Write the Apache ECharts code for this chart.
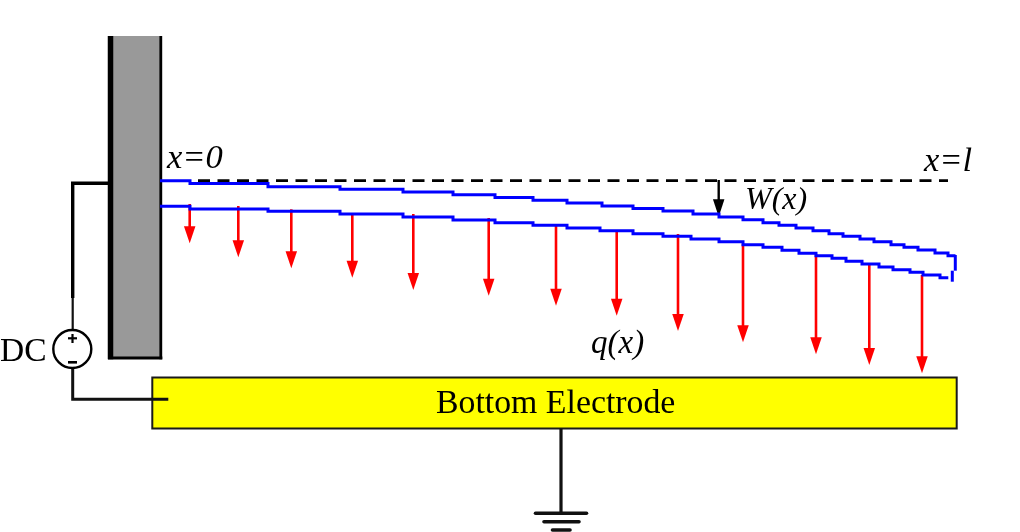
<!DOCTYPE html>
<html><head><meta charset="utf-8">
<style>html,body{margin:0;padding:0;background:#fff}#c{width:1020px;height:532px}</style>
<script src="https://cdn.jsdelivr.net/npm/echarts@6/dist/echarts.min.js"></script>
</head><body><div id="c"></div>
<script>
// Top surface of the beam (each step: x where it starts, y level)
const topX=[160,190,268,340,403,453,495,533,567,602,633,663,693,719,743,763,779,796,813,829,843,860,874,891,904,918,935,948,955.5];
const topY=[180.7,183.5,186.7,189.3,192,194.7,197.5,200.3,203,206,208.5,211,214,217,219.7,222.7,225.3,228,230.7,233.7,236.3,239,241.7,244.7,247.3,250,253,255.7,255.7];
// Bottom surface of the beam
const botX=[160,190,268,340,403,453,495,533,567,600,633,663,691,719,743,763,782,799,816,832,846,862,879,893,910,923,940,948.3];
const botY=[206.3,209,211.3,214,217,220,222.7,225.3,228,230.7,233.7,236.3,239,241.7,244.7,247.3,250.3,253.3,255.7,258.3,261.3,264,267,269.7,272.3,275,277.7,277.7];
// Beam free end
const endUpper=[[955.3,255],[955.3,270.7]];
const endLower=[[952.3,270.7],[952.3,281.7]];
// Undeflected reference line
const refLine=[[198,180.7],[948,180.7]];
// Distributed load q(x): position, start, tip
const loadX=[189.7,238.3,291.3,352.3,413.3,488.7,556,616.7,678,743,816,869.3,922];
const loadStart=[204,206,209.3,213,214,218,224,230,234,244,254.3,264,275];
const loadTip=[243.3,257.3,268.3,277.7,290,295.7,305.7,315.7,331,342.3,354.3,365,373.3];
// Deflection W(x) arrow
const wArrow=[718.7,180,216.7];
// Fixed support
const wallBox=[111,36,160,357.5];
const electrodeBox=[152.3,377.5,956.7,428.5];
// Wiring
const wireUpperA=[[113,183.3],[72.7,183.3],[72.7,298]];
const wireUpperB=[[72.7,298],[72.7,330]];
const wireLower=[[72.7,368],[72.7,399.3],[168.3,399.3]];
const groundStem=[[561,428.5],[561,513.3]];
const groundBars=[[[535.5,513.3],[586.5,513.3]],[[544,521.7],[579,521.7]],[[552.5,530],[570,530]]];
const source=[[72.3,349]];
const plusH=[[68,338.3],[77,338.3]], plusV=[[72.5,334],[72.5,343]], minus=[[68,362.3],[77,362.3]];
const wallLeft=[[110.5,36],[110.5,359.3]], wallRight=[[160.8,36],[160.8,359.3]], wallBottom=[[108,358],[162.3,358]];
// Text
const labels=[
 {t:'x=0',x:167,y:159,i:1,s:34.5},
 {t:'x=l',x:924,y:162,i:1,s:34.5},
 {t:'W(x)',x:745,y:200.5,i:1,s:32},
 {t:'q(x)',x:591,y:344,i:1,s:33},
 {t:'DC',x:0,y:352,i:0,s:33.5},
 {t:'Bottom Electrode',x:436,y:404,i:0,s:33.8}
];
const zip=(a,b)=>a.map((v,i)=>[v,b[i]]);
const line=(data,width,color,extra)=>Object.assign({type:'line',data,symbol:'none',silent:true,animation:false,
  lineStyle:{width,color,cap:'butt',join:'miter'},z:5},extra||{});
const box=(vals,fill,stroke,lw,z)=>({type:'custom',data:[vals],animation:false,silent:true,z,
  encode:{x:[0,2],y:[1,3]},
  renderItem(p,api){
    const a=api.coord([api.value(0),api.value(1)]),b=api.coord([api.value(2),api.value(3)]);
    return {type:'rect',shape:{x:a[0],y:a[1],width:b[0]-a[0],height:b[1]-a[1]},style:{fill,stroke,lineWidth:lw}};
  }});
const arrows=(rows,color,lw,hl,hw)=>({type:'custom',data:rows,animation:false,silent:true,z:6,
  encode:{x:0,y:[1,2]},
  renderItem(p,api){
    const s=api.coord([api.value(0),api.value(1)]),t=api.coord([api.value(0),api.value(2)]);
    return {type:'group',children:[
      {type:'line',shape:{x1:s[0],y1:s[1],x2:t[0],y2:t[1]-hl+1},style:{stroke:color,lineWidth:lw}},
      {type:'polygon',shape:{points:[[t[0]-hw/2,t[1]-hl],[t[0]+hw/2,t[1]-hl],[t[0],t[1]]]},style:{fill:color}}
    ]};
  }});
const series=[
  box(wallBox,'#999999',null,0,2),
  box(electrodeBox,'#ffff00','#1a1a1a',2,2),
  line(wallLeft,5.5,'#000'),line(wallRight,2.8,'#000'),line(wallBottom,3,'#000'),
  line(refLine,2.8,'#000',{lineStyle:{width:2.8,color:'#000',type:[12,7.5],cap:'butt'}}),
  line(zip(topX,topY),3,'#0000ff',{step:'end',z:7}),
  line(zip(botX,botY),3,'#0000ff',{step:'end',z:7}),
  line(endUpper,3,'#0000ff',{z:7}),line(endLower,3,'#0000ff',{z:7}),
  arrows(loadX.map((x,i)=>[x,loadStart[i],loadTip[i]]),'#ff0000',2.6,17,11.5),
  arrows([wArrow],'#000',2.4,17.5,11.5),
  line(wireUpperA,3.4,'#000'),line(wireUpperB,2.2,'#111'),line(wireLower,3,'#111'),line(groundStem,3.2,'#111'),
  ...groundBars.map(b=>line(b,3.6,'#111',{lineStyle:{width:3.6,color:'#111',cap:'round'}})),
  {type:'scatter',data:source,symbol:'circle',symbolSize:38,silent:true,animation:false,z:5,
   itemStyle:{color:'#fff',borderColor:'#000',borderWidth:2.4,opacity:1}},
  line(plusH,2.2,'#000',{z:8}),line(plusV,2.2,'#000',{z:8}),line(minus,2.6,'#000',{z:8}),
  {type:'custom',data:labels.map(l=>[l.x,l.y]),animation:false,silent:true,z:9,encode:{x:0,y:1},
   renderItem(p,api){
     const l=labels[p.dataIndex],c=api.coord([api.value(0),api.value(1)]);
     return {type:'text',x:c[0],y:c[1],style:{text:l.t,fill:'#000',align:'left',verticalAlign:'middle',
       font:(l.i?'italic ':'')+l.s+'px "Liberation Serif"'}};
   }}
];
const chart=echarts.init(document.getElementById('c'),null,{renderer:'canvas'});
chart.setOption({animation:false,backgroundColor:'#fff',
  grid:{left:0,right:0,top:0,bottom:0},
  xAxis:{type:'value',min:0,max:1020,show:false},
  yAxis:{type:'value',min:0,max:532,inverse:true,show:false},
  series});
</script></body></html>
